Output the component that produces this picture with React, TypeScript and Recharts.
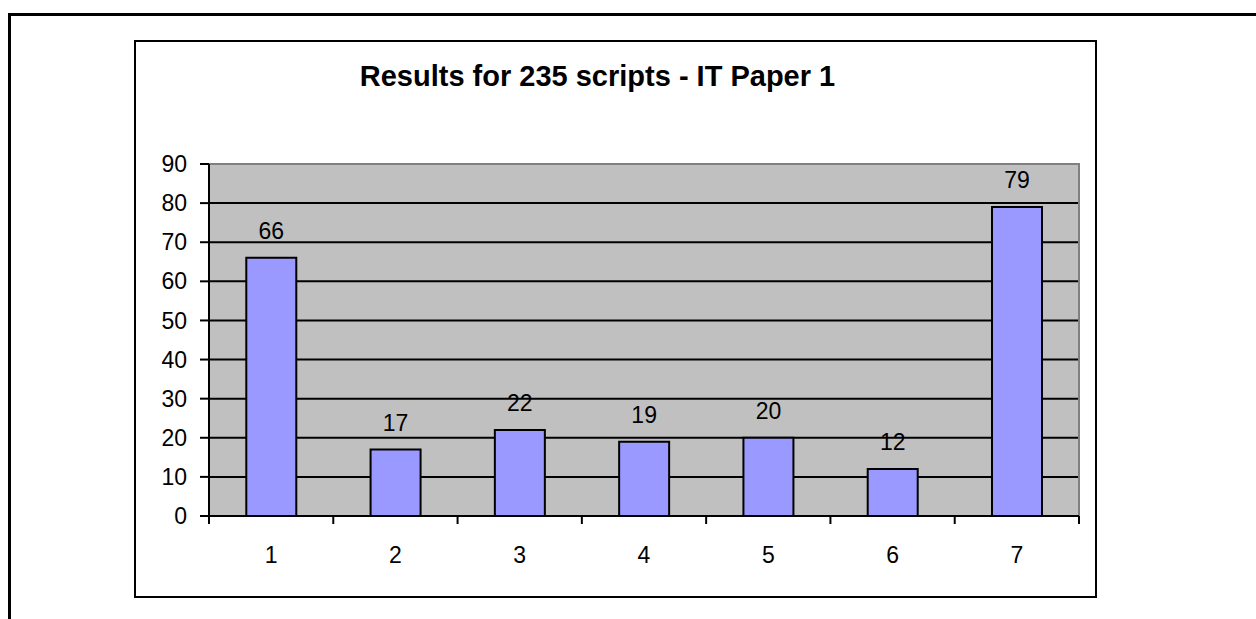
import { BarChart, Bar, XAxis, YAxis, CartesianGrid, ReferenceArea, LabelList } from 'recharts'

const categories = ['1', '2', '3', '4', '5', '6', '7']
const scripts = [66, 17, 22, 19, 20, 12, 79]
const yTicks = [0, 10, 20, 30, 40, 50, 60, 70, 80, 90]

const data = categories.map((c, i) => ({ grade: c, count: scripts[i] }))

const font = '"Liberation Sans", Arial, sans-serif'

// category label plus Excel-style tick marks on the band edges
const GradeTick = (props: any) => {
  const { x, y, payload, index, visibleTicksCount } = props
  const half = payload.offset ?? 0
  const last = index === (visibleTicksCount ?? categories.length) - 1
  return (
    <g>
      <line x1={x - half} x2={x - half} y1={y} y2={y + 8} stroke="#000" strokeWidth={2} />
      {last && <line x1={x + half} x2={x + half} y1={y} y2={y + 8} stroke="#000" strokeWidth={2} />}
      <text x={x} y={y + 31} dy="0.71em" textAnchor="middle" fill="#000" fontSize={23} fontFamily={font}>
        {payload.value}
      </text>
    </g>
  )
}

export default function App() {
  return (
    <div style={{ position: 'absolute', left: 0, top: 0, width: 1256, height: 619, overflow: 'hidden', background: '#fff', fontFamily: font }}>
      {/* outer page frame */}
      <div style={{ position: 'absolute', left: 8, top: 13, width: 1400, height: 800, borderTop: '3px solid #000', borderLeft: '3px solid #000' }} />
      {/* chart area frame */}
      <div style={{ position: 'absolute', left: 134, top: 40, width: 963, height: 558, boxSizing: 'border-box', border: '2px solid #000' }} />
      <div style={{ position: 'absolute', left: 0, top: 62, width: 1195, textAlign: 'center', fontSize: 29, lineHeight: '29px', fontWeight: 'bold', color: '#000' }}>
        Results for 235 scripts - IT Paper 1
      </div>
      <div style={{ position: 'absolute', left: 0, top: 0 }}>
        <BarChart
          width={1256}
          height={619}
          data={data}
          margin={{ top: 164, right: 177, bottom: 102, left: 208 }}
          barCategoryGap="30%"
        >
          <CartesianGrid vertical={false} stroke="#000" strokeWidth={2} fill="#C0C0C0" fillOpacity={1} />
          <ReferenceArea y1={0} y2={90} fill="none" stroke="#808080" strokeWidth={2} />
          <XAxis
            dataKey="grade"
            height={1}
            interval={0}
            axisLine={{ stroke: '#000', strokeWidth: 2 }}
            tickLine={false}
            tickSize={0}
            tickMargin={0}
            tick={GradeTick}
          />
          <YAxis
            width={1}
            domain={[0, 90]}
            ticks={yTicks}
            interval={0}
            axisLine={{ stroke: '#000', strokeWidth: 2 }}
            tickLine={{ stroke: '#000', strokeWidth: 2 }}
            tickSize={9}
            tickMargin={13}
            tick={{ fill: '#000', fontSize: 23, fontFamily: font }}
          />
          <Bar dataKey="count" fill="#9999FF" stroke="#000" strokeWidth={2} isAnimationActive={false}>
            <LabelList dataKey="count" position="top" offset={19} fill="#000" fontSize={23} fontFamily={font} />
          </Bar>
        </BarChart>
      </div>
    </div>
  )
}
